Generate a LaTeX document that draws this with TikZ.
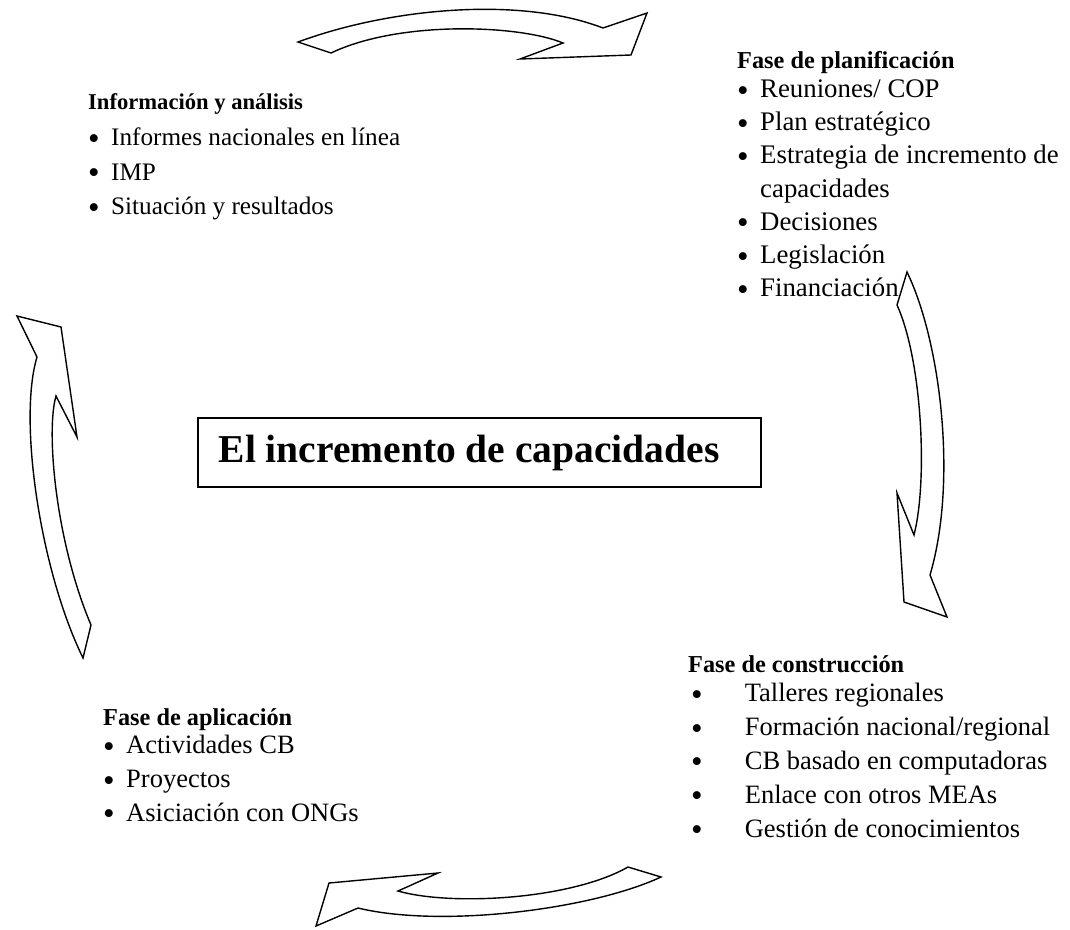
\documentclass[tikz,border=0pt]{standalone}
\usepackage{fontspec}
\setmainfont{Liberation Serif}
\newcommand\itemfont{\fontsize{26.5}{33.8}\selectfont}
\newcommand\headfont{\fontsize{24.3}{34}\selectfont\bfseries}
\newcommand\bigbul{\raisebox{-3.5pt}{\fontsize{33}{33}\selectfont •}}
\newcommand\bul[1][23pt]{\makebox[#1][l]{\bigbul}}
\tikzset{
  bigarrow/.style={draw=black, fill=white, line width=1.4pt, line join=miter},
  block/.style={anchor=north west, inner sep=0pt, align=left, font=\itemfont},
  titlebox/.style={draw=black, line width=1.5pt, anchor=west, inner xsep=21pt, inner ysep=0pt,
    minimum height=69pt, font=\fontsize{39.5}{46}\selectfont\bfseries}
}
\begin{document}
\begin{tikzpicture}[x=1pt,y=-1pt]
\useasboundingbox (0,0) rectangle (1070,929);

% top arrow
\draw[bigarrow] (298,42) .. controls (390,8) and (520,-4) .. (603,28)
  -- (647,13) -- (631,55) -- (520,59) -- (563,43)
  .. controls (520,25) and (400,20) .. (331,53) -- cycle;
% right arrow
\draw[bigarrow] (907,272) .. controls (940,340) and (958,480) .. (930,575)
  -- (947,617) -- (904,602) -- (897,493) -- (914,535)
  .. controls (928,480) and (922,360) .. (897,305) -- cycle;
% bottom arrow
\draw[bigarrow] (661,877) .. controls (590,910) and (440,928) .. (358,908)
  -- (316,926) -- (329,883) -- (438,873) -- (398,891)
  .. controls (450,906) and (570,900) .. (628,867) -- cycle;
% left arrow
\draw[bigarrow] (17,316) -- (61,327) -- (77,437) -- (56,396)
  .. controls (46,430) and (55,540) .. (91,625)
  -- (83,658)
  .. controls (40,570) and (18,420) .. (37,357) -- cycle;

\node[block, font=\fontsize{25.2}{34.6}\selectfont] (info) at (88,93) {{\fontsize{22.6}{34.6}\selectfont\bfseries Información y análisis}\\[2pt]
\bul Informes nacionales en línea\\
\bul IMP\\
\bul Situación y resultados};

\node[block, font=\fontsize{26.8}{33.2}\selectfont] (plan) at (737,51) {{\headfont Fase de planificación}\\[-4pt]
\bul Reuniones/ COP\\
\bul Plan estratégico\\
\bul Estrategia de incremento de\\
\hspace*{23pt}capacidades\\
\bul Decisiones\\
\bul Legislación\\
\bul Financiación};

\node[block] (cons) at (688,655) {{\headfont Fase de construcción}\\[-4pt]
\hspace*{3pt}\bul[47pt] Talleres regionales\\
\hspace*{3pt}\bul[47pt] Formación nacional/regional\\
\hspace*{3pt}\bul[47pt] CB basado en computadoras\\
\hspace*{3pt}\bul[47pt] Enlace con otros MEAs\\
\hspace*{3pt}\bul[47pt] Gestión de conocimientos};

\node[block] (apl) at (103,708) {{\headfont Fase de aplicación}\\[-5pt]
\bul Actividades CB\\
\bul Proyectos\\
\bul Asiciación con ONGs};

\node[titlebox] (center) at (197,452.5) {\makebox[521pt][l]{El incremento de capacidades}};
\end{tikzpicture}
\end{document}
